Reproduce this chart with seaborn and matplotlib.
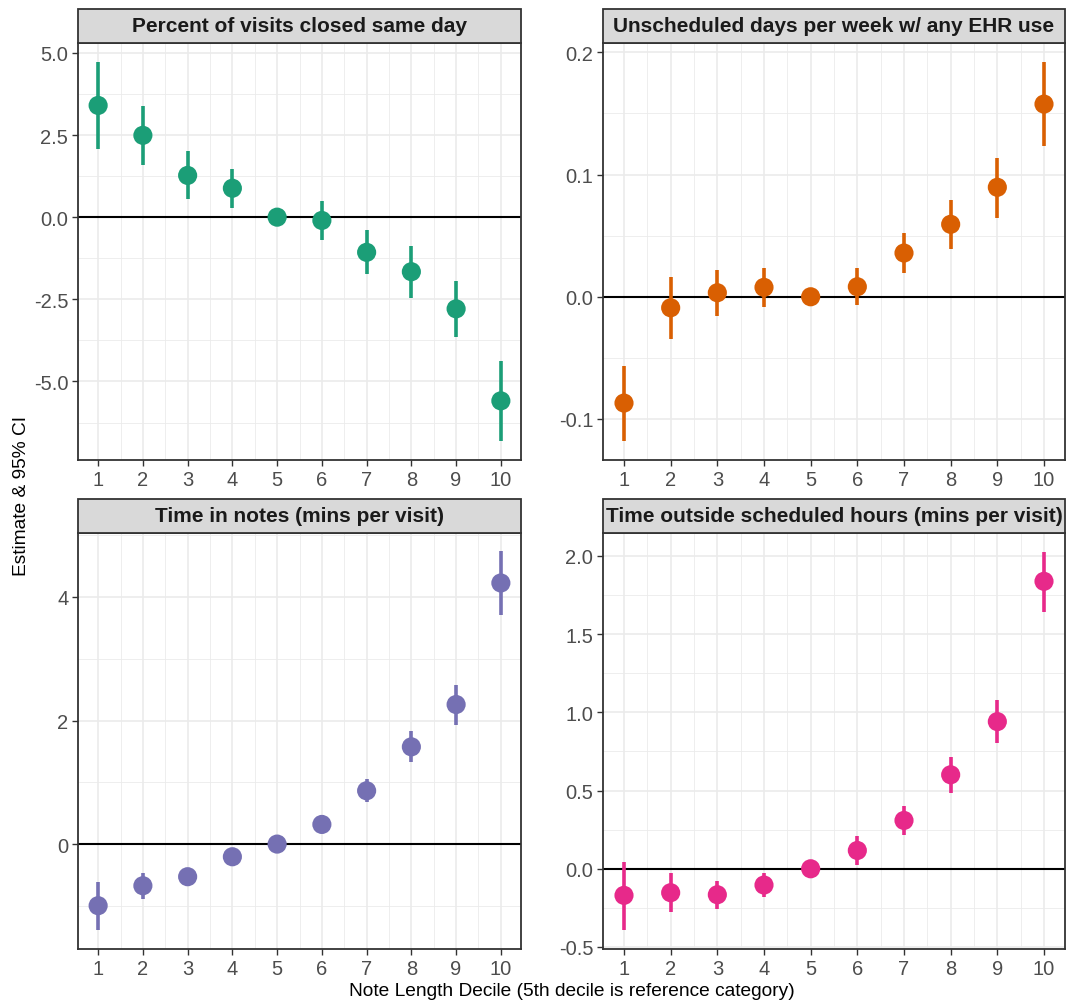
import numpy as np
import pandas as pd
import matplotlib
matplotlib.use("Agg")
import matplotlib.pyplot as plt
import seaborn as sns
from matplotlib.patches import Rectangle
from matplotlib.ticker import FixedLocator

sns.set_theme(style="white")
plt.rcParams['font.family'] = ['Liberation Sans', 'DejaVu Sans']

deciles = list(range(1, 11))

titles = ["Percent of visits closed same day",
          "Unscheduled days per week w/ any EHR use",
          "Time in notes (mins per visit)",
          "Time outside scheduled hours (mins per visit)"]
colors = ["#1B9E77", "#D95F02", "#7570B3", "#E7298A"]

est_closed = [3.40, 2.49, 1.27, 0.88, 0.0, -0.10, -1.07, -1.66, -2.79, -5.59]
lo_closed = [2.06, 1.60, 0.54, 0.29, 0.0, -0.71, -1.74, -2.45, -3.64, -6.81]
hi_closed = [4.73, 3.38, 2.01, 1.46, 0.0, 0.49, -0.38, -0.87, -1.95, -4.37]

est_unsched = [-0.087, -0.009, 0.0033, 0.0077, 0.0, 0.0082, 0.0358, 0.0593, 0.0896, 0.1577]
lo_unsched = [-0.118, -0.0342, -0.0158, -0.0085, 0.0, -0.0071, 0.0191, 0.0391, 0.0648, 0.1232]
hi_unsched = [-0.0563, 0.0161, 0.0221, 0.0235, 0.0, 0.0235, 0.0522, 0.0792, 0.1139, 0.1923]

est_notes = [-0.997, -0.674, -0.528, -0.205, 0.0, 0.318, 0.863, 1.574, 2.259, 4.226]
lo_notes = [-1.391, -0.884, -0.62, -0.29, 0.0, 0.24, 0.674, 1.321, 1.935, 3.714]
hi_notes = [-0.609, -0.464, -0.44, -0.12, 0.0, 0.40, 1.046, 1.833, 2.577, 4.739]

est_outside = [-0.170, -0.153, -0.166, -0.104, 0.0, 0.117, 0.309, 0.601, 0.941, 1.838]
lo_outside = [-0.392, -0.275, -0.260, -0.183, 0.0, 0.026, 0.215, 0.483, 0.805, 1.644]
hi_outside = [0.045, -0.030, -0.077, -0.030, 0.0, 0.207, 0.400, 0.716, 1.076, 2.028]

series = [(est_closed, lo_closed, hi_closed),
          (est_unsched, lo_unsched, hi_unsched),
          (est_notes, lo_notes, hi_notes),
          (est_outside, lo_outside, hi_outside)]

ylims = [(-7.39, 5.30), (-0.1336, 0.2077), (-1.698, 5.035), (-0.513, 2.147)]
ymajor = [[-5.0, -2.5, 0.0, 2.5, 5.0], [-0.1, 0.0, 0.1, 0.2], [0, 2, 4], [-0.5, 0.0, 0.5, 1.0, 1.5, 2.0]]
ylabels = [["-5.0", "-2.5", "0.0", "2.5", "5.0"], ["-0.1", "0.0", "0.1", "0.2"],
           ["0", "2", "4"], ["-0.5", "0.0", "0.5", "1.0", "1.5", "2.0"]]

W, H = 1068, 1004
fig = plt.figure(figsize=(W / 100, H / 100), dpi=100)

# axes boxes in pixels: left, right, top, bottom
boxes = [(78, 521, 44, 461), (603, 1065, 44, 461),
         (78, 521, 534, 950), (603, 1065, 534, 950)]
strip_h = 34

grid_c = "#EBEBEB"
dark = "#333333"

for i in range(4):
    l, r, t, b = boxes[i]
    ax = fig.add_axes([l / W, 1 - b / H, (r - l) / W, (b - t) / H])
    est, lo, hi = series[i]
    df = pd.DataFrame({"decile": deciles, "est": est, "lo": lo, "hi": hi})

    ymin, ymax = ylims[i]
    maj = ymajor[i]
    step = maj[1] - maj[0]
    minor = [m + step / 2 for m in [maj[0] - step] + maj]
    minor = [m for m in minor if ymin < m < ymax]
    for m in minor:
        ax.axhline(m, color=grid_c, lw=0.6, zorder=0)
    for m in maj:
        ax.axhline(m, color=grid_c, lw=1.2, zorder=0)
    for x in np.arange(1.5, 10.0, 1.0):
        ax.axvline(x, color=grid_c, lw=0.6, zorder=0)
    for x in deciles:
        ax.axvline(x, color=grid_c, lw=1.2, zorder=0)

    ax.axhline(0, color="black", lw=1.5, zorder=1)

    ax.vlines(df["decile"], df["lo"], df["hi"], color=colors[i], lw=2.6, zorder=2)
    sns.scatterplot(data=df, x="decile", y="est", ax=ax, color=colors[i],
                    s=190, edgecolor="none", linewidth=0, zorder=3, legend=False)

    ax.set_xlim(0.55, 10.45)
    ax.set_ylim(ymin, ymax)
    ax.xaxis.set_major_locator(FixedLocator(deciles))
    ax.set_xticklabels([str(d) for d in deciles])
    ax.yaxis.set_major_locator(FixedLocator(maj))
    ax.set_yticklabels(ylabels[i])
    ax.set_xlabel("")
    ax.set_ylabel("")
    ax.tick_params(axis="both", which="major", length=4, width=1.0, color=dark,
                   labelsize=14.5, labelcolor="#4D4D4D", pad=3, direction="out",
                   bottom=True, left=True)
    for s in ax.spines.values():
        s.set_color(dark)
        s.set_linewidth(1.3)
    ax.set_facecolor("white")

    rect = Rectangle((0, 1), 1, strip_h / (b - t), transform=ax.transAxes,
                     facecolor="#D9D9D9", edgecolor=dark, lw=1.3, clip_on=False, zorder=5)
    ax.add_patch(rect)
    ax.text(0.5, 1 + (strip_h / 2) / (b - t), titles[i], transform=ax.transAxes,
            ha="center", va="center", fontsize=15, fontweight="bold", color="#1A1A1A",
            zorder=6)

fig.text(22 / W, 1 - 496 / H, "Estimate & 95% CI", rotation=90, ha="center", va="center",
         fontsize=13.8, color="black")
fig.text(572 / W, 1 - 992 / H, "Note Length Decile (5th decile is reference category)",
         ha="center", va="center", fontsize=13.8, color="black")

fig.savefig("out.png", dpi=100, facecolor="white")
